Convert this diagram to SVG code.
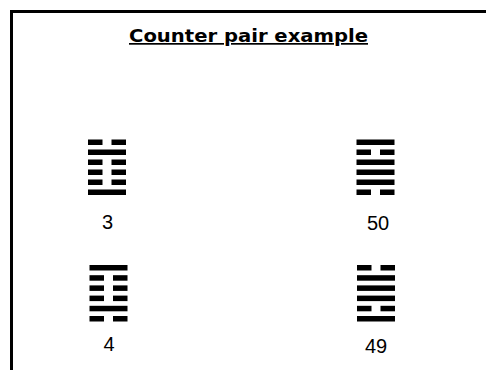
<svg xmlns="http://www.w3.org/2000/svg" xmlns:xlink="http://www.w3.org/1999/xlink" width="486" height="370" viewBox="0 0 486 370">
<style>
.title{font-family:"DejaVu Sans",sans-serif;font-weight:bold;font-size:17px;fill:#000;text-decoration:underline}
.num{font-family:"Liberation Sans",Arial,sans-serif;font-size:20px;fill:#000;text-anchor:middle}
.bar{fill:#000}
</style>
<defs>
<rect id="yang" class="bar" x="0" y="0" width="38" height="5.5"/>
<g id="yin"><rect class="bar" x="0" y="0" width="14.5" height="5.5"/><rect class="bar" x="23.5" y="0" width="14.5" height="5.5"/></g>
</defs>
<rect x="0" y="0" width="486" height="370" fill="#fff"/>
<g id="frame"><rect x="10" y="10" width="476" height="3" fill="#000"/><rect x="10" y="10" width="3" height="360" fill="#000"/></g>
<text class="title" x="129" y="42" textLength="239" lengthAdjust="spacingAndGlyphs">Counter pair example</text>
<g id="hex3">
<use xlink:href="#yin" x="88" y="139.5"/>
<use xlink:href="#yang" x="88" y="149.5"/>
<use xlink:href="#yin" x="88" y="159.5"/>
<use xlink:href="#yin" x="88" y="169.5"/>
<use xlink:href="#yin" x="88" y="179.5"/>
<use xlink:href="#yang" x="88" y="189.5"/>
<text class="num" x="107.5" y="229">3</text>
</g>
<g id="hex50">
<use xlink:href="#yang" x="356.5" y="139.5"/>
<use xlink:href="#yin" x="356.5" y="149.5"/>
<use xlink:href="#yang" x="356.5" y="159.5"/>
<use xlink:href="#yang" x="356.5" y="169.5"/>
<use xlink:href="#yang" x="356.5" y="179.5"/>
<use xlink:href="#yin" x="356.5" y="189.5"/>
<text class="num" x="378" y="230">50</text>
</g>
<g id="hex4">
<use xlink:href="#yang" x="89.5" y="265"/>
<use xlink:href="#yin" x="89.5" y="275.2"/>
<use xlink:href="#yin" x="89.5" y="285.4"/>
<use xlink:href="#yin" x="89.5" y="295.6"/>
<use xlink:href="#yang" x="89.5" y="305.8"/>
<use xlink:href="#yin" x="89.5" y="316"/>
<text class="num" x="109" y="351">4</text>
</g>
<g id="hex49">
<use xlink:href="#yin" x="357" y="265"/>
<use xlink:href="#yang" x="357" y="275.2"/>
<use xlink:href="#yang" x="357" y="285.4"/>
<use xlink:href="#yang" x="357" y="295.6"/>
<use xlink:href="#yin" x="357" y="305.8"/>
<use xlink:href="#yang" x="357" y="316"/>
<text class="num" x="376" y="353">49</text>
</g>
<g id="connectors"/>
</svg>
